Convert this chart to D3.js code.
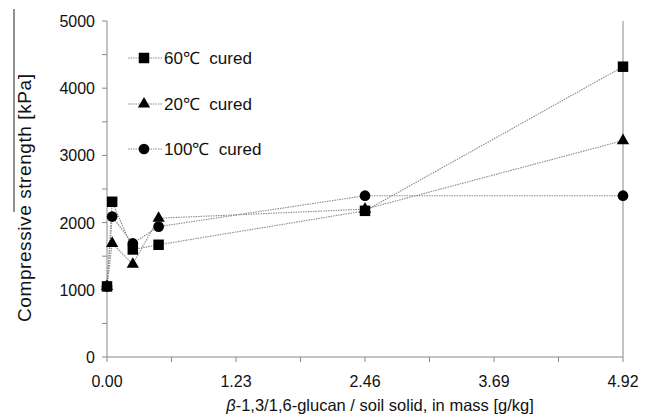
<!DOCTYPE html>
<html lang="en">
<head>
<meta charset="utf-8">
<title>Compressive strength</title>
<script src="https://cdn.jsdelivr.net/npm/d3@7"></script>
<style>
  body { margin: 0; background: #fff; }
  svg { font-family: "Liberation Sans", Arial, sans-serif; fill: #111; }
</style>
</head>
<body>
<svg id="chart" width="654" height="418"></svg>
<script>
// data
var dose = [0, 0.0492, 0.246, 0.492, 2.46, 4.92];
var cured60 = [1050, 2310, 1600, 1670, 2175, 4320];
var cured20 = [1050, 1690, 1380, 2065, 2200, 3220];
var cured100 = [1050, 2090, 1690, 1940, 2400, 2400];
var seriesNames = ["60\u2103 cured", "20\u2103 cured", "100\u2103 cured"];
var xTicks = [0, 1.23, 2.46, 3.69, 4.92];
var yTicks = [0, 1000, 2000, 3000, 4000, 5000];

var series = [
  { name: seriesNames[0], values: cured60, shape: d3.symbolSquare, size: 110 },
  { name: seriesNames[1], values: cured20, shape: d3.symbolTriangle, size: 65 },
  { name: seriesNames[2], values: cured100, shape: d3.symbolCircle, size: 90 }
];

var svg = d3.select("#chart");
var plotL = 107, plotR = 623, plotT = 21, plotB = 357;

var x = d3.scaleLinear().domain([0, 4.92]).range([plotL, plotR]);
var y = d3.scaleLinear().domain([0, 5000]).range([plotB, plotT]);

// stray scan line at the left edge
svg.append("line")
  .attr("x1", 14).attr("x2", 14).attr("y1", 9).attr("y2", 212)
  .attr("stroke", "#222").attr("stroke-width", 1);

// frame lines
var axisColor = "#888";
svg.append("line")
  .attr("x1", plotL).attr("x2", plotL).attr("y1", plotT).attr("y2", plotB)
  .attr("stroke", axisColor);
svg.append("line")
  .attr("x1", plotR).attr("x2", plotR).attr("y1", plotT).attr("y2", plotB)
  .attr("stroke", axisColor);
svg.append("line")
  .attr("x1", plotL).attr("x2", plotR).attr("y1", plotB).attr("y2", plotB)
  .attr("stroke", axisColor);

// y ticks (major + minor)
svg.selectAll(".ytick").data(d3.range(0, 5001, 500)).enter().append("line")
  .attr("x1", plotL - 5).attr("x2", plotL)
  .attr("y1", function(d) { return y(d); })
  .attr("y2", function(d) { return y(d); })
  .attr("stroke", axisColor);
svg.selectAll(".ylab").data(yTicks).enter().append("text")
  .attr("x", plotL - 12)
  .attr("y", function(d) { return y(d) + 6; })
  .attr("text-anchor", "end")
  .attr("font-size", 16)
  .text(function(d) { return d; });

// x ticks (major + minor)
svg.selectAll(".xtick").data(d3.range(0, 9)).enter().append("line")
  .attr("x1", function(i) { return x(i * 0.615); })
  .attr("x2", function(i) { return x(i * 0.615); })
  .attr("y1", plotB).attr("y2", plotB + 5)
  .attr("stroke", axisColor);
svg.selectAll(".xlab").data(xTicks).enter().append("text")
  .attr("x", function(d) { return x(d); })
  .attr("y", plotB + 30)
  .attr("text-anchor", "middle")
  .attr("font-size", 16)
  .text(function(d) { return d.toFixed(2); });

// axis titles
var xt = svg.append("text")
  .attr("x", 380).attr("y", 411)
  .attr("text-anchor", "middle")
  .attr("font-size", 16.5);
xt.append("tspan").attr("font-style", "italic").text("\u03b2");
xt.append("tspan").text("-1,3/1,6-glucan  / soil solid, in mass [g/kg]");

svg.append("text")
  .attr("transform", "translate(31,198) rotate(-90)")
  .attr("text-anchor", "middle")
  .attr("font-size", 19)
  .attr("textLength", 248)
  .text("Compressive strength [kPa]");

// lines
var line = d3.line()
  .x(function(d, i) { return x(dose[i]); })
  .y(function(d) { return y(d); });

var lineColor = "#8a8a8a";
series.forEach(function(s) {
  svg.append("path")
    .attr("d", line(s.values))
    .attr("fill", "none")
    .attr("stroke", lineColor)
    .attr("stroke-width", 1.1)
    .attr("stroke-dasharray", "1.5,1");
});

// markers, drawn 20, 100, 60 so squares sit on top
[series[1], series[2], series[0]].forEach(function(s) {
  svg.selectAll(null).data(s.values).enter().append("path")
    .attr("transform", function(d, i) { return "translate(" + x(dose[i]) + "," + y(d) + ")"; })
    .attr("d", d3.symbol().type(s.shape).size(s.size))
    .attr("fill", "#000");
});

// legend
var legendY = [58, 104, 149];
series.forEach(function(s, i) {
  var g = svg.append("g").attr("transform", "translate(0," + legendY[i] + ")");
  g.append("line")
    .attr("x1", 128).attr("x2", 162)
    .attr("stroke", lineColor)
    .attr("stroke-dasharray", "1.5,1");
  g.append("path")
    .attr("transform", "translate(144,0)")
    .attr("d", d3.symbol().type(s.shape).size(s.size))
    .attr("fill", "#000");
  g.append("text")
    .attr("x", 164).attr("y", 6)
    .attr("font-size", 17)
    .text(s.name.replace(" ", "\u00a0 "));
});
</script>
</body>
</html>
